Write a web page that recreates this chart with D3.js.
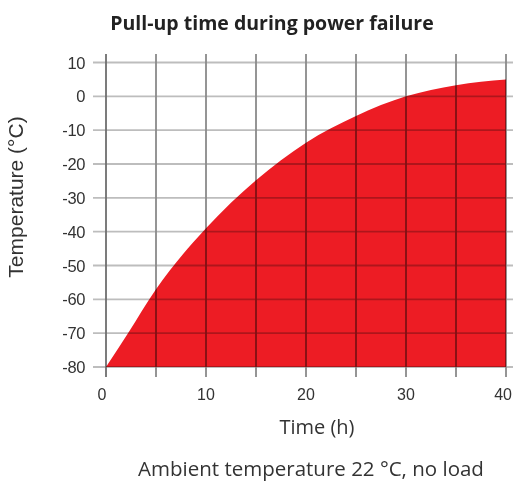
<!DOCTYPE html>
<html><head><meta charset="utf-8">
<script src="https://cdn.jsdelivr.net/npm/d3@7"></script>
<style>
body{margin:0;background:#fff;}
svg{display:block;}
</style></head>
<body>
<svg id="chart" width="513" height="485"></svg>
<script>
const hours = [0, 2.2, 5, 10, 15, 20, 25, 30, 35, 40];
const temps = [-80, -70, -57, -39, -24.8, -13.7, -5.8, 0, 3.3, 5.0];
const xTicks = [0, 10, 20, 30, 40];
const xGrid = [0, 5, 10, 15, 20, 25, 30, 35, 40];
const yTicks = [10, 0, -10, -20, -30, -40, -50, -60, -70, -80];
const title = "Pull-up time during power failure";
const xTitle = "Time (h)";
const yTitle = "Temperature (°C)";
const note = "Ambient temperature 22 °C, no load";

const svg = d3.select("#chart");
const x = d3.scaleLinear().domain([0, 40]).range([106, 506]);
const y = d3.scaleLinear().domain([-80, 10]).range([367, 62.5]);

const data = hours.map((h, i) => ({h, t: temps[i]}));
const area = d3.area().x(d => x(d.h)).y0(y(-80)).y1(d => y(d.t)).curve(d3.curveMonotoneX);
svg.append("path").datum(data).attr("d", area).attr("fill", "#ed1c24");

const grid = svg.append("g").style("mix-blend-mode", "multiply");
grid.selectAll(".hg").data(yTicks).join("line")
  .attr("x1", 93).attr("x2", 513)
  .attr("y1", d => y(d)).attr("y2", d => y(d))
  .attr("stroke", "#bdbdbd").attr("stroke-width", 1.8);
grid.selectAll(".vg").data(xGrid).join("line")
  .attr("x1", d => x(d)).attr("x2", d => x(d))
  .attr("y1", 54).attr("y2", 377)
  .attr("stroke", d => d === 0 ? "#6e6e6e" : "#8a8a8a").attr("stroke-width", 1.8);

svg.append("g").selectAll("text").data(xTicks).join("text")
  .attr("x", d => d === 40 ? 512 : x(d) - (d === 0 ? 4 : 0)).attr("y", 400)
  .attr("text-anchor", d => d === 40 ? "end" : "middle")
  .attr("font-family", "Liberation Sans, Arial, sans-serif")
  .attr("font-size", 16).attr("fill", "#333")
  .text(d => d);

svg.append("g").selectAll("text").data(yTicks).join("text")
  .attr("x", 85).attr("y", d => y(d) + 6)
  .attr("text-anchor", "end")
  .attr("font-family", "Liberation Sans, Arial, sans-serif")
  .attr("font-size", 16.5).attr("fill", "#333")
  .attr("letter-spacing", -0.4)
  .text(d => d);

svg.append("text").attr("x", 272).attr("y", 30).attr("text-anchor", "middle")
  .attr("font-family", "'Open Sans', Lato, sans-serif").attr("font-weight", "bold")
  .attr("font-size", 19.5).attr("fill", "#222").text(title);

svg.append("text").attr("x", 317).attr("y", 434).attr("text-anchor", "middle")
  .attr("font-family", "'Open Sans', Lato, sans-serif")
  .attr("font-size", 20).attr("fill", "#333").text(xTitle);

svg.append("text").attr("transform", "translate(23,197) rotate(-90)").attr("text-anchor", "middle")
  .attr("font-family", "Liberation Sans, Arial, sans-serif")
  .attr("font-size", 21).attr("fill", "#333").text(yTitle);

svg.append("text").attr("x", 311).attr("y", 476).attr("text-anchor", "middle")
  .attr("font-family", "'Open Sans', Lato, sans-serif")
  .attr("font-size", 20.5).attr("fill", "#333").text(note);
</script>
</body></html>
